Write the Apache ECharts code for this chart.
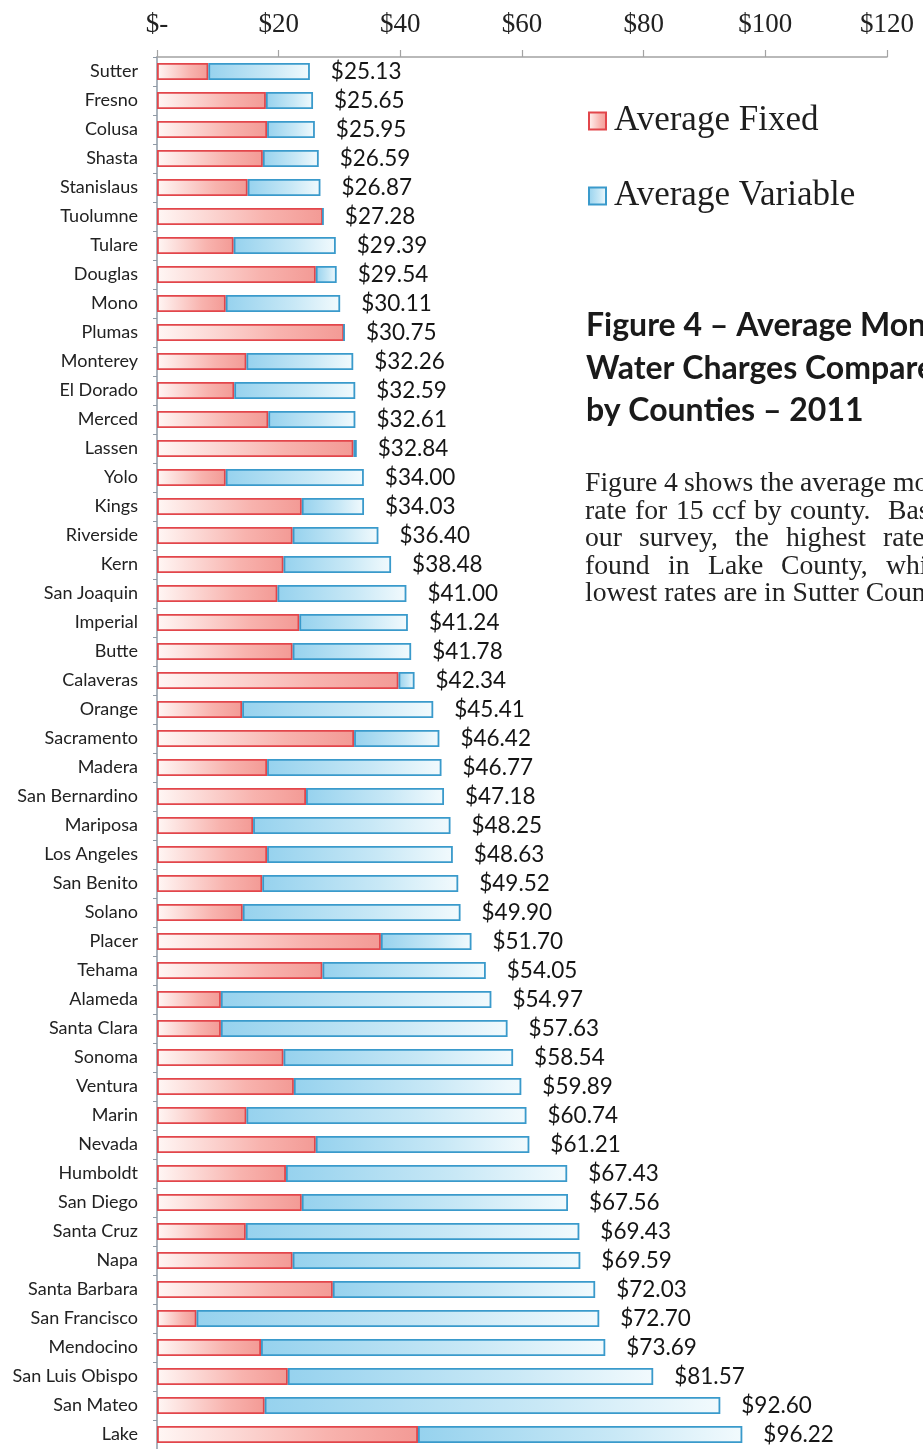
<!DOCTYPE html>
<html>
<head>
<meta charset="utf-8">
<title>Average Monthly Water Charges by County - 2011</title>
<script src="https://cdn.jsdelivr.net/npm/echarts@6/dist/echarts.min.js"></script>
<style>
  html, body { margin: 0; padding: 0; background: #ffffff; }
  #chart { width: 923px; height: 1449px; }
</style>
</head>
<body>
<div id="chart"></div>
<script>
// Counties, ordered from lowest to highest total monthly charge (15 ccf)
const counties = [
  'Sutter', 'Fresno', 'Colusa', 'Shasta', 'Stanislaus', 'Tuolumne', 'Tulare', 'Douglas',
  'Mono', 'Plumas', 'Monterey', 'El Dorado', 'Merced', 'Lassen', 'Yolo', 'Kings',
  'Riverside', 'Kern', 'San Joaquin', 'Imperial', 'Butte', 'Calaveras', 'Orange', 'Sacramento',
  'Madera', 'San Bernardino', 'Mariposa', 'Los Angeles', 'San Benito', 'Solano', 'Placer', 'Tehama',
  'Alameda', 'Santa Clara', 'Sonoma', 'Ventura', 'Marin', 'Nevada', 'Humboldt', 'San Diego',
  'Santa Cruz', 'Napa', 'Santa Barbara', 'San Francisco', 'Mendocino', 'San Luis Obispo', 'San Mateo', 'Lake'
];

// Average fixed charge ($)
const averageFixed = [
  8.44, 17.90, 18.10, 17.40, 14.90, 27.28, 12.60, 26.10,
  11.30, 30.75, 14.70, 12.70, 18.30, 32.30, 11.30, 23.80,
  22.30, 20.80, 19.80, 23.40, 22.30, 39.70, 14.00, 32.40,
  18.10, 24.50, 15.80, 18.10, 17.30, 14.10, 36.80, 27.20,
  10.50, 10.50, 20.80, 22.50, 14.70, 26.10, 21.20, 23.80,
  14.60, 22.30, 28.90, 6.50, 17.10, 21.50, 17.70, 42.90
];

// Average variable charge ($)
const averageVariable = [
  16.69, 7.75, 7.85, 9.19, 11.97, 0.00, 16.79, 3.44,
  18.81, 0.00, 17.56, 19.89, 14.31, 0.54, 22.70, 10.23,
  14.10, 17.68, 21.20, 17.84, 19.48, 2.64, 31.41, 14.02,
  28.67, 22.68, 32.45, 30.53, 32.22, 35.80, 14.90, 26.85,
  44.47, 47.13, 37.74, 37.39, 46.04, 35.11, 46.23, 43.76,
  54.83, 47.29, 43.13, 66.20, 56.59, 60.07, 74.90, 53.32
];

// Total monthly charge ($) shown at the end of each bar
const totalCharge = [
  25.13, 25.65, 25.95, 26.59, 26.87, 27.28, 29.39, 29.54,
  30.11, 30.75, 32.26, 32.59, 32.61, 32.84, 34.00, 34.03,
  36.40, 38.48, 41.00, 41.24, 41.78, 42.34, 45.41, 46.42,
  46.77, 47.18, 48.25, 48.63, 49.52, 49.90, 51.70, 54.05,
  54.97, 57.63, 58.54, 59.89, 60.74, 61.21, 67.43, 67.56,
  69.43, 69.59, 72.03, 72.70, 73.69, 81.57, 92.60, 96.22
];

// Value axis tick labels ($0 .. $120, step 20)
const xTickLabels = ['$-', '$20', '$40', '$60', '$80', '$100', '$120'];

const seriesNames = ['Average Fixed', 'Average Variable'];

const titleLines = [
  'Figure 4 \u2013 Average Monthly',
  'Water Charges Compared',
  'by Counties \u2013 2011'
];

// Paragraph lines: [text, index of the word used to set the justified spacing, its x]
const paragraphLines = [
  ['Figure 4 shows the average monthly', 5, 893],
  ['rate for 15 ccf by county.  Based on', 7, 888],
  ['our survey, the highest rates are', 4, 883],
  ['found in Lake County, while the', 4, 886],
  ['lowest rates are in Sutter County.', -1, 0]
];

const textLeft = 585;
const bodyFont = '27.7px "Liberation Serif"';

// --- layout helpers for the justified paragraph ---
const measureCtx = document.createElement('canvas').getContext('2d');
measureCtx.font = bodyFont;
const wordWidth = w => measureCtx.measureText(w).width;

const chart = echarts.init(document.getElementById('chart'), null, { renderer: 'canvas' });

const fixedFill = new echarts.graphic.LinearGradient(0, 0, 1, 0, [
  { offset: 0, color: '#fff7f5' },
  { offset: 0.65, color: '#f8b3ae' },
  { offset: 1, color: '#f39a95' }
]);
const variableFill = new echarts.graphic.LinearGradient(0, 0, 1, 0, [
  { offset: 0, color: '#96d2ee' },
  { offset: 0.6, color: '#c8e8f6' },
  { offset: 1, color: '#f2fafd' }
]);

const graphics = [];
titleLines.forEach((t, i) => {
  graphics.push({
    type: 'text', left: 586, top: 310 + i * 42.5,
    style: { text: t, font: 'bold 32px Lato', fill: '#1a1a1a' }
  });
});

paragraphLines.forEach(([text, anchorIdx, anchorX], line) => {
  const top = 470 + line * 27.5;
  if (anchorIdx < 0) {
    graphics.push({ type: 'text', left: textLeft, top, style: { text, font: bodyFont, fill: '#222' } });
    return;
  }
  const words = text.split(' ');
  const widths = words.map(wordWidth);
  let used = 0;
  for (let i = 0; i < anchorIdx; i++) used += widths[i];
  const gap = (anchorX - textLeft - used) / anchorIdx;
  let x = textLeft;
  words.forEach((w, i) => {
    if (w) graphics.push({ type: 'text', left: Math.round(x), top, style: { text: w, font: bodyFont, fill: '#222' } });
    x += widths[i] + gap;
  });
});

chart.setOption({
  animation: false,
  backgroundColor: '#ffffff',
  grid: { left: 157, right: 36, top: 57, height: 1394, containLabel: false },
  legend: {
    orient: 'vertical',
    left: 588, top: 102, padding: 0,
    itemWidth: 17, itemHeight: 17, itemGap: 37,
    icon: 'rect',
    data: seriesNames,
    textStyle: {
      fontFamily: 'Liberation Serif', fontSize: 35, lineHeight: 38, color: '#1e1e1e',
      padding: [0, 0, 0, 3]
    }
  },
  xAxis: {
    type: 'value', position: 'top',
    min: 0, max: 120, interval: 20,
    axisLine: { show: true, lineStyle: { color: '#a3a3a3', width: 1.5 } },
    axisTick: { show: true, length: 7, lineStyle: { color: '#a3a3a3', width: 1.2 } },
    splitLine: { show: false },
    axisLabel: {
      margin: 19,
      fontFamily: 'Liberation Serif', fontSize: 27, color: '#222',
      formatter: v => xTickLabels[Math.round(v / 20)]
    }
  },
  yAxis: {
    type: 'category', inverse: true, data: counties,
    axisLine: { show: true, lineStyle: { color: '#8f9aa6', width: 1.5 } },
    axisTick: { show: true, length: 4, lineStyle: { color: '#8f9aa6' } },
    axisLabel: { margin: 19, fontFamily: 'Lato', fontSize: 18, color: '#222' }
  },
  series: [
    {
      name: seriesNames[0], type: 'bar', stack: 'total', barWidth: 17,
      data: averageFixed,
      itemStyle: { color: fixedFill, borderColor: '#e2464b', borderWidth: 1.8 }
    },
    {
      name: seriesNames[1], type: 'bar', stack: 'total', barWidth: 17,
      data: averageVariable,
      itemStyle: { color: variableFill, borderColor: '#3a9acb', borderWidth: 1.8 },
      label: {
        show: true, position: 'right', distance: 21,
        fontFamily: 'Lato', fontSize: 22.5, color: '#151515',
        formatter: p => '$' + totalCharge[p.dataIndex].toFixed(2)
      }
    }
  ],
  graphic: graphics
});
</script>
</body>
</html>
